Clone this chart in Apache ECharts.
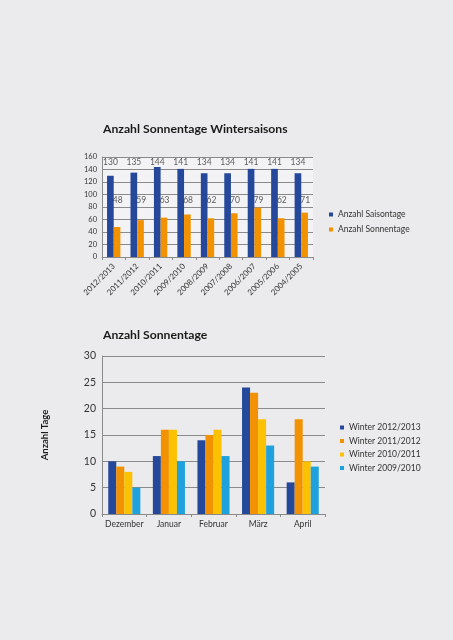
<!DOCTYPE html>
<html><head><meta charset="utf-8">
<script src="https://cdn.jsdelivr.net/npm/echarts@6/dist/echarts.min.js"></script>
<style>html,body{margin:0;padding:0;background:#ebebed}#c{width:453px;height:640px}</style>
</head><body><div id="c"></div>
<script>
// Chart 1 data
const seasons = ['2012/2013','2011/2012','2010/2011','2009/2010','2008/2009','2007/2008','2006/2007','2005/2006','2004/2005'];
const saisontage = [130,135,144,141,134,134,141,141,134];
const sonnentage = [48,59,63,68,62,70,79,62,71];
const yTicks1 = {min:0, max:160, interval:20};
// Chart 2 data
const months = ['Dezember','Januar','Februar','März','April'];
const w1213 = [10,11,14,24,6];
const w1112 = [9,16,15,23,18];
const w1011 = [8,16,16,18,10];
const w0910 = [5,10,11,13,9];
const yTicks2 = {min:0, max:30, interval:5};

const FONT = "Lato, sans-serif";
const C = {blue:'#25489a', orange:'#f39200', yellow:'#fcc100', cyan:'#1ea1dc', grid:'#8a8a8a', text:'#333'};
const LABEL_ROW_TOP = 152, LABEL_ROW_MID = 90;

const chart = echarts.init(document.getElementById('c'), null, {renderer:'canvas'});
chart.setOption({
  backgroundColor:'#ebebed',
  animation:false,
  textStyle:{fontFamily:FONT},
  title:[
    {text:'Anzahl Sonnentage Wintersaisons', left:98, top:118, textStyle:{fontFamily:FONT, fontWeight:'bold', fontSize:12.2, color:'#1a1a1a'}},
    {text:'Anzahl Sonnentage', left:98, top:324, textStyle:{fontFamily:FONT, fontWeight:'bold', fontSize:12.2, color:'#1a1a1a'}}
  ],
  legend:[
    {orient:'vertical', left:324, top:205, itemWidth:4, itemHeight:4, itemGap:6, icon:'rect',
     data:['Anzahl Saisontage','Anzahl Sonnentage'], textStyle:{fontSize:8.5, color:C.text, fontFamily:FONT}},
    {orient:'vertical', left:335, top:418, itemWidth:4, itemHeight:4, itemGap:4.5, icon:'rect',
     data:['Winter 2012/2013','Winter 2011/2012','Winter 2010/2011','Winter 2009/2010'], textStyle:{fontSize:8.5, color:C.text, fontFamily:FONT}}
  ],
  grid:[
    {left:102, top:157, width:211, height:100, show:true, backgroundColor:'#f3f3f5', borderWidth:0},
    {left:102, top:356, width:223, height:158, show:false}
  ],
  xAxis:[
    {type:'category', gridIndex:0, data:seasons,
     axisLine:{lineStyle:{color:C.grid}}, axisTick:{show:true, length:3, lineStyle:{color:C.grid}},
     axisLabel:{rotate:45, fontSize:8, color:C.text, margin:8, interval:0}},
    {type:'category', gridIndex:1, data:months,
     axisLine:{lineStyle:{color:C.grid}}, axisTick:{show:true, length:3, lineStyle:{color:C.grid}},
     axisLabel:{fontSize:8.5, color:C.text, margin:6, interval:0}}
  ],
  yAxis:[
    {type:'value', gridIndex:0, min:yTicks1.min, max:yTicks1.max, interval:yTicks1.interval,
     axisLine:{show:true, lineStyle:{color:C.grid}}, axisTick:{show:false},
     splitLine:{lineStyle:{color:C.grid, width:1}},
     axisLabel:{fontSize:7.5, color:C.text, margin:5}},
    {type:'value', gridIndex:1, min:yTicks2.min, max:yTicks2.max, interval:yTicks2.interval,
     axisLine:{show:true, lineStyle:{color:C.grid}}, axisTick:{show:false},
     splitLine:{lineStyle:{color:C.grid, width:1}},
     axisLabel:{fontSize:10.5, color:C.text, margin:6},
     name:'Anzahl Tage', nameLocation:'middle', nameRotate:90, nameGap:52,
     nameTextStyle:{fontSize:9.5, fontWeight:'bold', color:'#1a1a1a', fontFamily:FONT}}
  ],
  series:[
    {name:'Anzahl Saisontage', type:'bar', xAxisIndex:0, yAxisIndex:0, data:saisontage,
     itemStyle:{color:C.blue}, barGap:'0%', barCategoryGap:'43%'},
    {name:'Anzahl Sonnentage', type:'bar', xAxisIndex:0, yAxisIndex:0, data:sonnentage,
     itemStyle:{color:C.orange}, barGap:'0%', barCategoryGap:'43%'},
    {name:'lblTop', type:'scatter', xAxisIndex:0, yAxisIndex:0, symbolSize:0, silent:true,
     data:saisontage.map((v,i)=>[i, LABEL_ROW_TOP, v]),
     label:{show:true, position:'inside', offset:[-3.3,0], formatter:p=>p.data[2], fontSize:8.5, color:C.text}},
    {name:'lblMid', type:'scatter', xAxisIndex:0, yAxisIndex:0, symbolSize:0, silent:true,
     data:sonnentage.map((v,i)=>[i, LABEL_ROW_MID, v]),
     label:{show:true, position:'inside', offset:[4,0], formatter:p=>p.data[2], fontSize:8.5, color:C.text}},
    {name:'Winter 2012/2013', type:'bar', xAxisIndex:1, yAxisIndex:1, data:w1213, itemStyle:{color:C.blue}, barGap:'0%', barCategoryGap:'28%'},
    {name:'Winter 2011/2012', type:'bar', xAxisIndex:1, yAxisIndex:1, data:w1112, itemStyle:{color:C.orange}, barGap:'0%', barCategoryGap:'28%'},
    {name:'Winter 2010/2011', type:'bar', xAxisIndex:1, yAxisIndex:1, data:w1011, itemStyle:{color:C.yellow}, barGap:'0%', barCategoryGap:'28%'},
    {name:'Winter 2009/2010', type:'bar', xAxisIndex:1, yAxisIndex:1, data:w0910, itemStyle:{color:C.cyan}, barGap:'0%', barCategoryGap:'28%'}
  ]
});
</script></body></html>
